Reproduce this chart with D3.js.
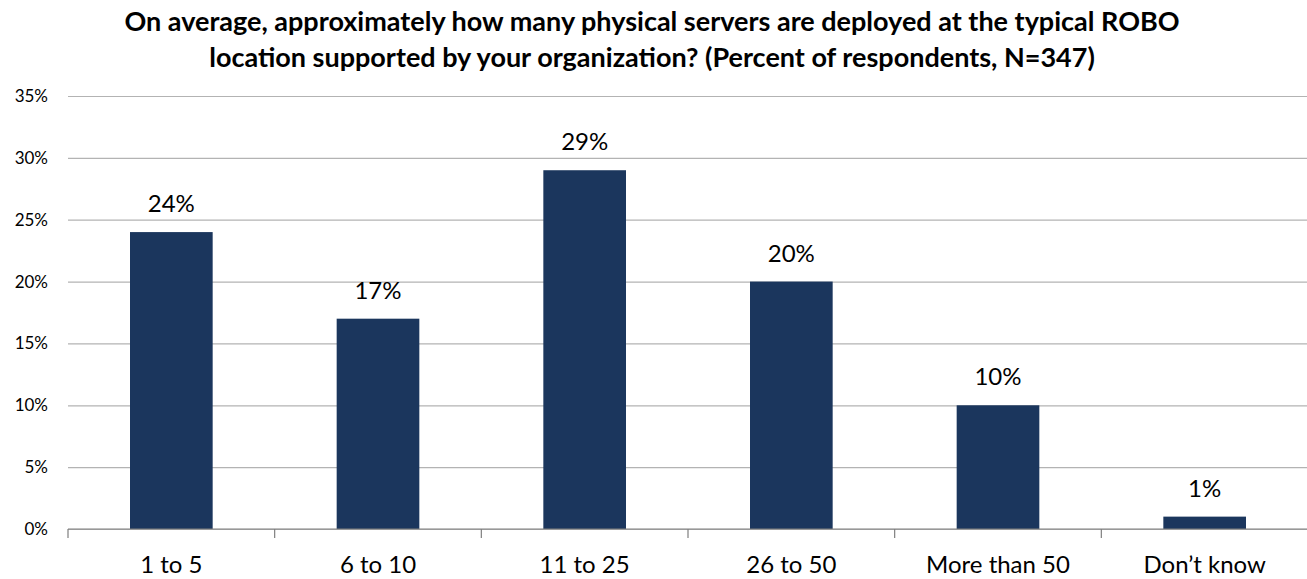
<!DOCTYPE html>
<html>
<head>
<meta charset="utf-8">
<script src="https://cdn.jsdelivr.net/npm/d3@7"></script>
<style>
  body { margin: 0; background: #fff; }
  svg text { font-family: Lato, "Open Sans", sans-serif; fill: #000; }
</style>
</head>
<body>
<div class="chart"></div>
<script>
// chart data
const categories = ['1 to 5', '6 to 10', '11 to 25', '26 to 50', 'More than 50', 'Don\u2019t know'];
const values = [24, 17, 29, 20, 10, 1];
const yTicks = [0, 5, 10, 15, 20, 25, 30, 35];
const titleLines = [
    'On average, approximately how many physical servers are deployed at the typical ROBO',
    'location supported by your organization? (Percent of respondents, N=347)'
];

const width = 1307;
const height = 579;
const margin = { top: 96, right: -1, bottom: 50, left: 68 };

const svg = d3.select('.chart')
    .append('svg')
    .attr('width', width)
    .attr('height', height);

const x = d3.scaleBand()
    .domain(categories)
    .range([margin.left, width - margin.right])
    .paddingInner(0.6)
    .paddingOuter(0.3);

const y = d3.scaleLinear()
    .domain([0, 35])
    .range([height - margin.bottom, margin.top]);

// gridlines + y labels
const yAxis = svg.append('g')
    .attr('class', 'y-axis')
    .attr('transform', `translate(${margin.left},0)`)
    .call(d3.axisLeft(y)
        .tickValues(yTicks)
        .tickSize(-(width - margin.left - margin.right))
        .tickPadding(20)
        .tickFormat((d) => `${d}%`));
yAxis.select('.domain').remove();
yAxis.selectAll('.tick line').attr('stroke', '#b3b3b3').attr('stroke-width', 1.2);
yAxis.selectAll('.tick text').style('font-size', '17px');

// bars
svg.append('g')
    .selectAll('rect')
    .data(values)
    .enter()
    .append('rect')
    .attr('x', (d, i) => x(categories[i]))
    .attr('y', (d) => y(d))
    .attr('width', x.bandwidth())
    .attr('height', (d) => y(0) - y(d))
    .attr('fill', '#1b365d');

// value labels
svg.append('g')
    .selectAll('text')
    .data(values)
    .enter()
    .append('text')
    .attr('x', (d, i) => x(categories[i]) + x.bandwidth() / 2)
    .attr('y', (d) => y(d) - 20)
    .attr('text-anchor', 'middle')
    .style('font-size', '24px')
    .text((d) => `${d}%`);

// x axis with boundary ticks
const band = (width - margin.left - margin.right) / categories.length;
const xAxis = svg.append('g').attr('class', 'x-axis');
xAxis.append('line')
    .attr('x1', margin.left)
    .attr('x2', width)
    .attr('y1', y(0))
    .attr('y2', y(0))
    .attr('stroke', '#7f7f7f')
    .attr('stroke-width', 1.2);
xAxis.selectAll('.bound')
    .data(d3.range(categories.length + 1))
    .enter()
    .append('line')
    .attr('x1', (i) => margin.left + i * band)
    .attr('x2', (i) => margin.left + i * band)
    .attr('y1', y(0))
    .attr('y2', y(0) + 9)
    .attr('stroke', '#7f7f7f')
    .attr('stroke-width', 1.2);
xAxis.selectAll('.cat')
    .data(categories)
    .enter()
    .append('text')
    .attr('x', (d) => x(d) + x.bandwidth() / 2)
    .attr('y', 573)
    .attr('text-anchor', 'middle')
    .style('font-size', '24px')
    .text((d) => d);

// title
svg.append('g')
    .selectAll('text')
    .data(titleLines)
    .enter()
    .append('text')
    .attr('x', 652)
    .attr('y', (d, i) => 31 + i * 36)
    .attr('text-anchor', 'middle')
    .style('font-size', '27px')
    .style('font-weight', 'bold')
    .text((d) => d);
</script>
</body>
</html>
